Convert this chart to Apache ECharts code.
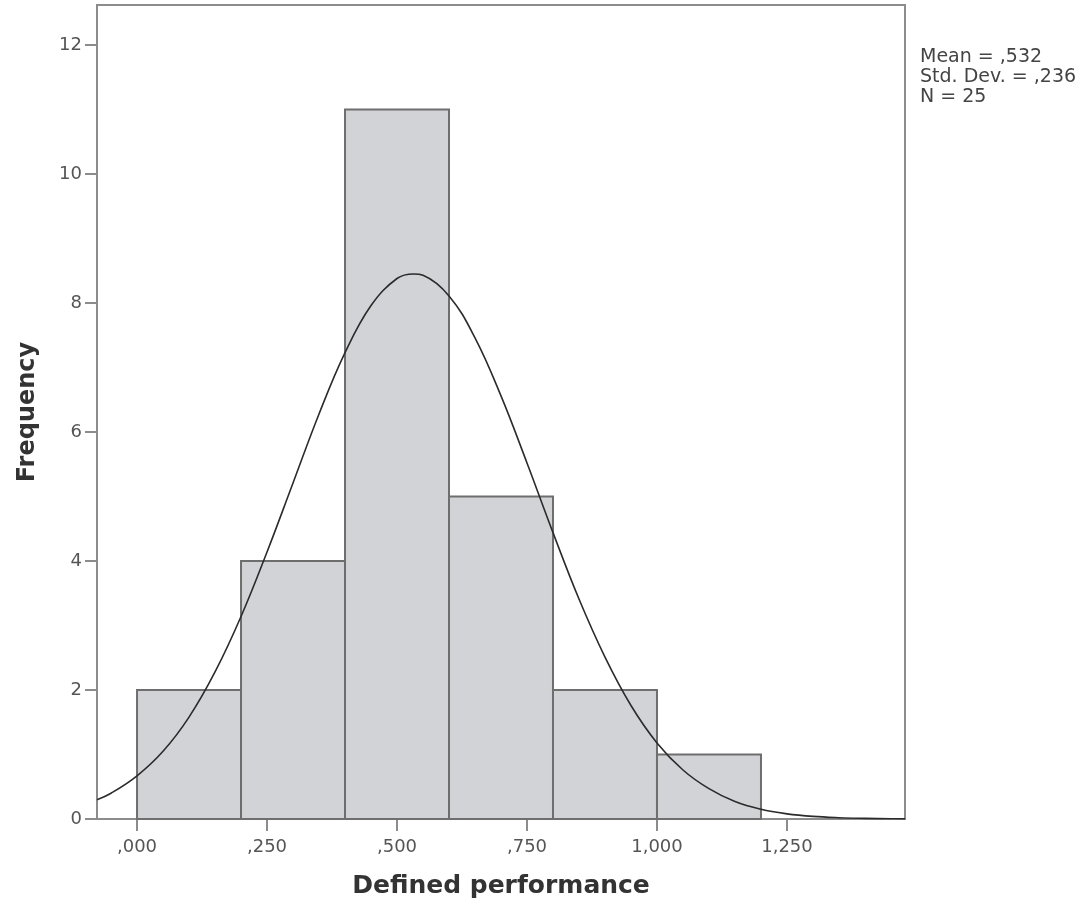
<!DOCTYPE html>
<html>
<head>
<meta charset="utf-8">
<script src="https://cdn.jsdelivr.net/npm/echarts@6/dist/echarts.min.js"></script>
<style>
html,body{margin:0;padding:0;background:#fff;}
#chart{width:1091px;height:908px;}
</style>
</head>
<body>
<div id="chart"></div>
<script>
// Histogram bins (lower edge) and frequencies
const binStarts = [0.0, 0.2, 0.4, 0.6, 0.8, 1.0];
const binWidth = 0.2;
const frequencies = [2, 4, 11, 5, 2, 1];

// Normal curve points (x, frequency)
const curveX = [-0.077, -0.05, 0.0, 0.05, 0.1, 0.15, 0.2, 0.25, 0.3, 0.35, 0.4, 0.45, 0.5, 0.532, 0.55, 0.6, 0.65, 0.7, 0.75, 0.8, 0.85, 0.9, 0.95, 1.0, 1.05, 1.1, 1.15, 1.2, 1.25, 1.3, 1.35, 1.4, 1.45, 1.477];
const curveY = [0.30, 0.40, 0.67, 1.05, 1.58, 2.28, 3.14, 4.14, 5.21, 6.28, 7.23, 7.96, 8.38, 8.45, 8.43, 8.11, 7.46, 6.56, 5.52, 4.44, 3.41, 2.51, 1.76, 1.18, 0.76, 0.47, 0.27, 0.15, 0.08, 0.04, 0.02, 0.01, 0.004, 0.002];

// Axis ticks and labels
const xTickValues = [0, 0.25, 0.5, 0.75, 1.0, 1.25];
const xTickLabels = [',000', ',250', ',500', ',750', '1,000', '1,250'];
const yTickValues = [0, 2, 4, 6, 8, 10, 12];

// Stats text
const statsLines = ['Mean = ,532', 'Std. Dev. = ,236', 'N = 25'];

const FONT = 'DejaVu Sans';
const axisGray = '#8c8c8c';

const barData = binStarts.map((s, i) => [s, s + binWidth, frequencies[i]]);
const curveData = curveX.map((x, i) => [x, curveY[i]]);

const chart = echarts.init(document.getElementById('chart'), null, {renderer: 'canvas'});
chart.setOption({
  backgroundColor: '#ffffff',
  animation: false,
  grid: {
    left: 97, right: 186, top: 5, bottom: 89,
    show: true, borderColor: axisGray, borderWidth: 2, backgroundColor: 'transparent'
  },
  xAxis: {
    type: 'value',
    min: -0.077, max: 1.477,
    name: 'Defined performance',
    nameLocation: 'middle',
    nameGap: 55,
    nameTextStyle: {fontFamily: FONT, fontWeight: 'bold', fontSize: 25, color: '#333'},
    axisLine: {show: true, onZero: false, lineStyle: {color: axisGray, width: 2}},
    axisTick: {show: true, length: 12, customValues: xTickValues, lineStyle: {color: axisGray, width: 2}},
    axisLabel: {
      customValues: xTickValues,
      margin: 19,
      fontFamily: FONT, fontSize: 18, color: '#555',
      formatter: function (v) {
        const i = xTickValues.findIndex(t => Math.abs(t - v) < 1e-9);
        return i >= 0 ? xTickLabels[i] : '';
      }
    },
    splitLine: {show: false}
  },
  yAxis: {
    type: 'value',
    min: 0, max: 12.62,
    name: 'Frequency',
    nameLocation: 'middle',
    nameGap: 57,
    nameTextStyle: {fontFamily: FONT, fontWeight: 'bold', fontSize: 24, color: '#333'},
    axisLine: {show: true, onZero: false, lineStyle: {color: axisGray, width: 2}},
    axisTick: {show: true, length: 12, customValues: yTickValues, lineStyle: {color: axisGray, width: 2}},
    axisLabel: {
      customValues: yTickValues,
      margin: 15,
      fontFamily: FONT, fontSize: 18, color: '#555'
    },
    splitLine: {show: false}
  },
  graphic: [{
    type: 'text',
    left: 920, top: 47,
    style: {
      text: statsLines.join('\n'),
      fontFamily: FONT, fontSize: 19, lineHeight: 20,
      fill: '#444'
    }
  }],
  series: [{
    type: 'custom',
    data: barData,
    encode: {x: [0, 1], y: 2},
    renderItem: function (params, api) {
      const p0 = api.coord([api.value(0), 0]);
      const p1 = api.coord([api.value(1), api.value(2)]);
      return {
        type: 'rect',
        shape: {x: p0[0], y: p1[1], width: p1[0] - p0[0], height: p0[1] - p1[1]},
        style: {fill: '#d2d3d6', stroke: '#6e6e6e', lineWidth: 2}
      };
    },
    z: 2
  }, {
    type: 'line',
    data: curveData,
    smooth: 0.4,
    symbol: 'none',
    lineStyle: {color: '#2b2b2b', width: 1.6},
    z: 3
  }]
});
</script>
</body>
</html>
